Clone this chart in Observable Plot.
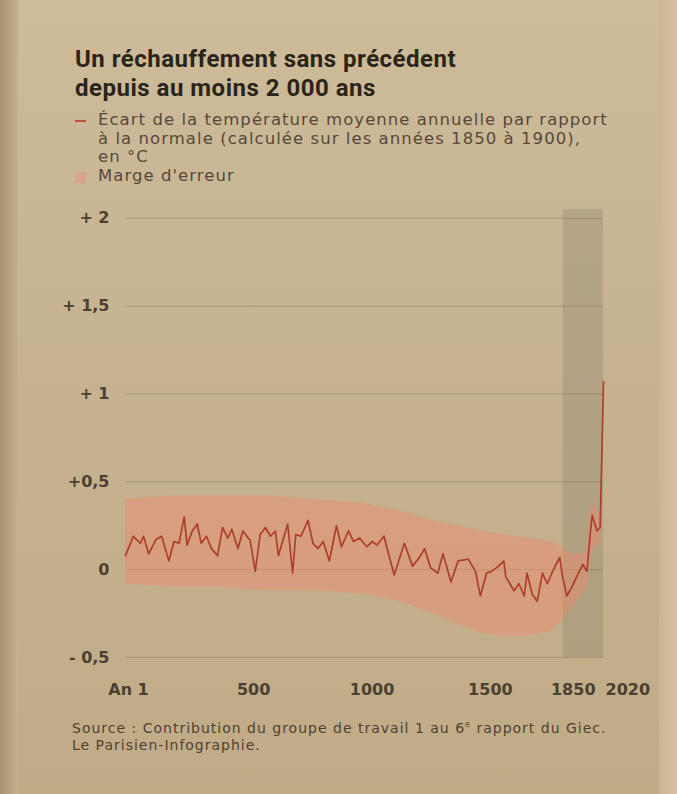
<!DOCTYPE html>
<html>
<head>
<meta charset="utf-8">
<script src="https://cdn.jsdelivr.net/npm/d3@7"></script>
<script src="https://cdn.jsdelivr.net/npm/@observablehq/plot@0.6"></script>
<style>
  html, body { margin: 0; padding: 0; }
  body {
    width: 677px; height: 794px; position: relative; overflow: hidden;
    background: linear-gradient(180deg, #cdbb9a 0%, #c7b391 45%, #c1ab87 100%);
    font-family: "DejaVu Sans", sans-serif;
  }
  #edgeL { position: absolute; left: 0; top: 0; width: 18px; height: 794px;
    background: linear-gradient(90deg, #a99371, #c6b18e); }
  #edgeR { position: absolute; right: 0; top: 0; width: 18px; height: 794px;
    background: linear-gradient(90deg, #cab595, #d9c0a2); }
  #title { position: absolute; left: 75px; top: 45px; font-family: Roboto, sans-serif;
    font-weight: 700; font-size: 24px; line-height: 28.5px; letter-spacing: 0.5px; color: #2a2419; }
  #legend { position: absolute; left: 75px; top: 111px; font-size: 16.5px; line-height: 18.5px;
    color: #56493a; letter-spacing: 1.05px; }
  .row { display: flex; }
  .sw { width: 23px; flex: none; position: relative; }
  .dash { position: absolute; left: 0; top: 9px; width: 11px; height: 2px; background: #c0553d; }
  .sq { position: absolute; left: 0; top: 5px; width: 11px; height: 11px; background: #d9a48c; }
  #chart { position: absolute; left: 0; top: 195px; }
  #footer { position: absolute; left: 72px; top: 720px; font-size: 14px; line-height: 17px;
    color: #4e4231; letter-spacing: 1px; }
  sup { font-size: 8px; line-height: 0; }
</style>
</head>
<body>
<div id="edgeL"></div>
<div id="edgeR"></div>
<div id="title">Un réchauffement sans précédent<br>depuis au moins 2 000 ans</div>
<div id="legend">
  <div class="row"><div class="sw"><div class="dash"></div></div><div>Écart de la température moyenne annuelle par rapport<br>à la normale (calculée sur les années 1850 à 1900),<br>en °C</div></div>
  <div class="row"><div class="sw"><div class="sq"></div></div><div>Marge d'erreur</div></div>
</div>
<div id="chart"></div>
<div id="footer">Source : Contribution du groupe de travail 1 au 6<sup>e</sup> rapport du Giec.<br>Le Parisien-Infographie.</div>
<script>
// --- Data ---
const years = [1, 34, 64, 77, 99, 129, 154, 184, 206, 227, 249, 261, 283, 304, 321, 343, 364, 390, 411, 433,
  450, 476, 497, 519, 527, 549, 570, 592, 613, 634, 647, 686, 707, 720, 742, 772, 793, 814, 836, 862,
  892, 913, 943, 964, 990, 1020, 1042, 1063, 1093, 1106, 1136, 1179, 1213, 1243, 1264, 1290, 1320, 1342, 1376, 1406,
  1449, 1479, 1500, 1526, 1547, 1577, 1599, 1607, 1642, 1663, 1685, 1697, 1719, 1740, 1762, 1783, 1805, 1835, 1847, 1865,
  1886, 1907, 1933, 1950, 1963, 1972, 1993, 2006, 2020];
const temps = [0.08, 0.19, 0.15, 0.19, 0.09, 0.17, 0.19, 0.05, 0.16, 0.15, 0.30, 0.14, 0.22, 0.26, 0.15, 0.19, 0.12, 0.08, 0.24, 0.18,
  0.23, 0.12, 0.22, 0.18, 0.17, -0.01, 0.20, 0.24, 0.19, 0.22, 0.08, 0.26, -0.02, 0.20, 0.19, 0.28, 0.15, 0.12, 0.16, 0.05,
  0.25, 0.13, 0.22, 0.16, 0.18, 0.13, 0.16, 0.14, 0.19, 0.12, -0.03, 0.15, 0.02, 0.07, 0.12, 0.01, -0.02, 0.09, -0.07, 0.05,
  0.06, -0.01, -0.15, -0.02, -0.01, 0.02, 0.05, -0.04, -0.12, -0.08, -0.15, -0.02, -0.14, -0.18, -0.02, -0.08, -0.01, 0.07, -0.04, -0.15,
  -0.10, -0.04, 0.03, -0.01, 0.19, 0.31, 0.22, 0.24, 1.07];

const bandYears = [1, 200, 400, 600, 800, 1000, 1100, 1200, 1300, 1400, 1500, 1600, 1700, 1800, 1850, 1900, 1950, 1970, 2000, 2010, 2020];
const bandLow  = [-0.08, -0.10, -0.10, -0.12, -0.12, -0.14, -0.16, -0.20, -0.25, -0.31, -0.36, -0.38, -0.38, -0.35, -0.28, -0.20, -0.10, 0.10, 0.15, 0.16, 0.98];
const bandHigh = [0.40, 0.42, 0.42, 0.42, 0.40, 0.38, 0.35, 0.32, 0.28, 0.25, 0.22, 0.20, 0.18, 0.16, 0.12, 0.08, 0.10, 0.38, 0.32, 0.34, 1.12];

const industrialPeriod = [1850, 2020];

const xTicks = [1, 500, 1000, 1500, 1850, 2020];
const xTickLabels = ["An 1", "500", "1000", "1500", "1850", "2020"];
const yTicks = [-0.5, 0, 0.5, 1, 1.5, 2];
const yTickLabels = ["- 0,5", "0", "+0,5", "+ 1", "+ 1,5", "+ 2"];

// --- Build tables ---
const lineData = years.map((y, i) => ({year: y, temp: temps[i]}));
const bandData = bandYears.map((y, i) => ({year: y, low: bandLow[i], high: bandHigh[i]}));
const xFmt = d => xTickLabels[xTicks.indexOf(d)];
const yFmt = d => yTickLabels[yTicks.indexOf(d)];

const chart = Plot.plot({
  width: 677,
  height: 512,
  marginLeft: 125,
  marginRight: 74,
  marginTop: 14,
  marginBottom: 50,
  style: {fontFamily: "DejaVu Sans", fontSize: "16px", fontWeight: "bold", color: "#4b4031", background: "transparent"},
  x: {domain: [1, 2020]},
  y: {domain: [-0.5, 2.05]},
  marks: [
    Plot.rect([industrialPeriod], {x1: d => d[0], x2: d => d[1], y1: -0.5, y2: 2.05, fill: "#7b7262", fillOpacity: 0.26}),
    Plot.gridY(yTicks, {stroke: "#8a7856", strokeOpacity: 0.5, strokeWidth: 1}),
    Plot.areaY(bandData, {x: "year", y1: "low", y2: "high", fill: "#ee8a6e", fillOpacity: 0.45}),
    Plot.lineY(lineData, {x: "year", y: "temp", stroke: "#ad3f2c", strokeWidth: 1.7}),
    Plot.axisY(yTicks, {tickSize: 0, tickPadding: 16, tickFormat: yFmt, label: null}),
    Plot.axisX([1], {tickSize: 0, tickPadding: 26, tickFormat: xFmt, textAnchor: "middle", dx: 3, label: null}),
    Plot.axisX([500, 1000, 1500, 1850], {tickSize: 0, tickPadding: 26, tickFormat: xFmt, dx: 10, label: null}),
    Plot.axisX([2020], {tickSize: 0, tickPadding: 26, tickFormat: xFmt, textAnchor: "start", dx: 2, label: null})
  ]
});
document.getElementById("chart").appendChild(chart);
</script>
</body>
</html>
